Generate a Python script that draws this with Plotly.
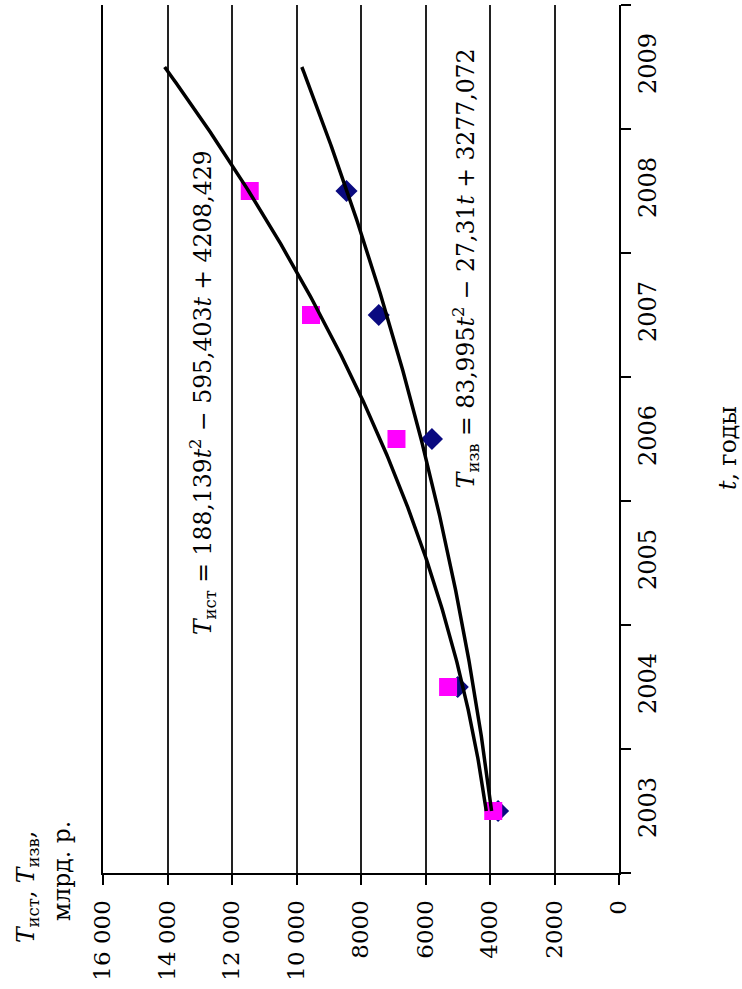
import numpy as np
import plotly.graph_objects as go

# Observed values, bln rub
years = [2003, 2004, 2006, 2007, 2008]
t_ist = [3900, 5300, 6900, 9550, 11450]   # T_ист
t_izv = [3750, 5000, 5800, 7450, 8450]    # T_изв

# Quadratic trend coefficients (t = year - 2000)
coef_ist = [188.139, -595.403, 4208.429]
coef_izv = [83.995, -27.31, 3277.072]
base_year = 2000
trend_start, trend_end = 2003, 2009

year_ticks = [2003, 2004, 2005, 2006, 2007, 2008, 2009]
value_ticks = [0, 2000, 4000, 6000, 8000, 10000, 12000, 14000, 16000]
value_tick_text = ["0", "2000", "4000", "6000", "8000",
                   "10 000", "12 000", "14 000", "16 000"]

FONT = "DejaVu Serif"

tt = np.linspace(trend_start, trend_end, 241)
ist_curve = np.polyval(coef_ist, tt - base_year)
izv_curve = np.polyval(coef_izv, tt - base_year)

fig = go.Figure()
fig.add_trace(go.Scatter(x=t_izv, y=years, mode="markers",
                         marker=dict(symbol="diamond", size=17, color="#0a0a80"),
                         showlegend=False))
fig.add_trace(go.Scatter(x=t_ist, y=years, mode="markers",
                         marker=dict(symbol="square", size=18, color="#ff00ff"),
                         showlegend=False))
fig.add_trace(go.Scatter(x=ist_curve, y=tt, mode="lines",
                         line=dict(color="black", width=3.5), showlegend=False))
fig.add_trace(go.Scatter(x=izv_curve, y=tt, mode="lines",
                         line=dict(color="black", width=3.5), showlegend=False))

half_years = [y - 0.5 for y in year_ticks] + [year_ticks[-1] + 0.5]

fig.update_layout(
    template="none",
    width=742, height=989,
    margin=dict(l=103, r=123, t=5, b=116),
    paper_bgcolor="white", plot_bgcolor="white",
    font=dict(family=FONT, size=23, color="black"),
    xaxis=dict(
        range=[16000, 0], tickvals=value_ticks, ticktext=value_tick_text,
        tickangle=-90, ticks="outside", ticklen=10, tickwidth=2, tickcolor="black",
        ticklabelstandoff=6,
        showline=True, linewidth=2, linecolor="black",
        showgrid=True, gridcolor="#222222", gridwidth=1.6, zeroline=False,
        tickfont=dict(family=FONT, size=23),
    ),
    yaxis=dict(
        side="right", range=[half_years[0], half_years[-1]],
        tickvals=year_ticks, ticktext=[str(y) for y in year_ticks],
        tickangle=-90, ticks="outside", ticklen=6, tickcolor="rgba(0,0,0,0)",
        ticklabelstandoff=0,
        minor=dict(tickvals=half_years, ticks="outside", ticklen=10,
                   tickwidth=2, tickcolor="black", showgrid=False),
        showline=True, linewidth=2, linecolor="black", mirror=True,
        showgrid=False, zeroline=False,
        tickfont=dict(family=FONT, size=24),
    ),
)

annotations = [
    dict(text="<i>T</i><sub>ист</sub> = 188,139<i>t</i><sup>2</sup> − 595,403<i>t</i> + 4208,429",
         x=0.194, y=0.553),
    dict(text="<i>T</i><sub>изв</sub> = 83,995<i>t</i><sup>2</sup> − 27,31<i>t</i> + 3277,072",
         x=0.704, y=0.697),
    dict(text="<i>t</i>, годы", x=1.21, y=0.49),
    dict(text="<i>T</i><sub>ист</sub>, <i>T</i><sub>изв</sub>,", x=-0.145, y=-0.016),
    dict(text="млрд. р.", x=-0.078, y=0.002),
]
for a in annotations:
    fig.add_annotation(xref="paper", yref="paper", textangle=-90, showarrow=False,
                       xanchor="center", yanchor="middle",
                       font=dict(family=FONT, size=23.5, color="black"), **a)

fig.write_html("out.html")
